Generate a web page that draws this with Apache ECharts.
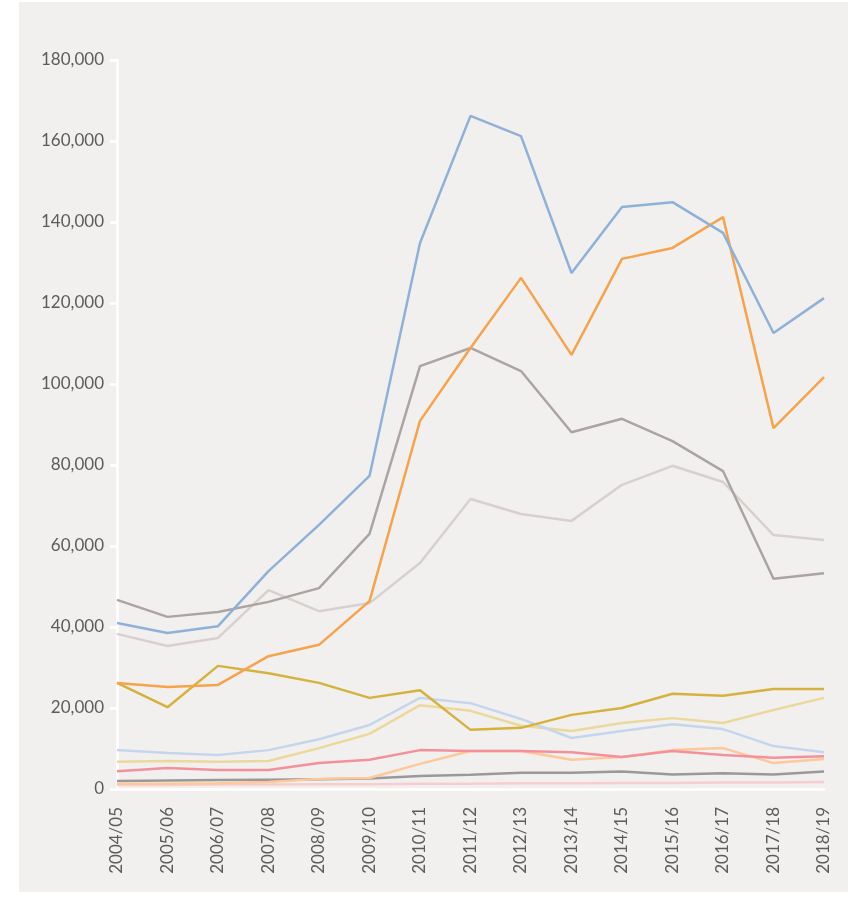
<!DOCTYPE html>
<html>
<head>
<meta charset="utf-8">
<script src="https://cdn.jsdelivr.net/npm/echarts@6/dist/echarts.min.js"></script>
<style>
html,body{margin:0;padding:0;background:#ffffff;}
#chart{width:855px;height:899px;}
</style>
</head>
<body>
<div id="chart"></div>
<script>
const categories = ['2004/05','2005/06','2006/07','2007/08','2008/09','2009/10','2010/11','2011/12','2012/13','2013/14','2014/15','2015/16','2016/17','2017/18','2018/19'];

const seriesBlue      = [41000,38500,40200,53800,65200,77300,134800,166200,161200,127400,143700,144900,137300,112600,121200];
const seriesOrange    = [26200,25200,25700,32800,35600,46400,90900,108900,126200,107200,130900,133600,141200,89100,101700];
const seriesTaupe     = [46700,42500,43700,46200,49600,63000,104400,108900,103200,88100,91400,85900,78500,51900,53300];
const seriesLightTaupe= [38300,35300,37300,49100,43900,45900,55800,71600,67900,66200,75100,79800,75800,62700,61500];
const seriesGold      = [26200,20200,30400,28600,26200,22500,24400,14600,15100,18300,20000,23500,23000,24700,24700];
const seriesLightBlue = [9600,8900,8400,9600,12300,15800,22500,21200,17300,12600,14300,16000,14800,10600,9100];
const seriesPaleGold  = [6700,6900,6700,6900,10100,13600,20700,19300,15600,14300,16300,17500,16300,19500,22500];
const seriesPinkRed   = [4400,5200,4700,4700,6400,7200,9600,9400,9400,9100,7900,9400,8400,7700,8100];
const seriesPeach     = [1300,1300,1400,1700,2500,2700,6200,9400,9400,7200,7900,9600,10100,6400,7400];
const seriesGray      = [2000,2100,2200,2300,2400,2600,3200,3500,4000,4000,4300,3600,3900,3600,4300];
const seriesLightPink = [1000,1000,1100,1100,1200,1200,1300,1300,1400,1400,1500,1500,1600,1600,1700];

const yTicks = { min: 0, max: 180000, interval: 20000 };

const lines = [
  { data: seriesLightPink, color: '#f8cdd0' },
  { data: seriesGray, color: '#9a9898' },
  { data: seriesPeach, color: '#fdc89a' },
  { data: seriesPinkRed, color: '#f2919c' },
  { data: seriesPaleGold, color: '#ead89d' },
  { data: seriesLightBlue, color: '#c5d6ec' },
  { data: seriesGold, color: '#d5b23e' },
  { data: seriesLightTaupe, color: '#d8d0cf' },
  { data: seriesTaupe, color: '#aca4a2' },
  { data: seriesOrange, color: '#f6a34b' },
  { data: seriesBlue, color: '#8fb1d7' }
];

const chart = echarts.init(document.getElementById('chart'), null, { renderer: 'canvas' });
const font = 'Lato, "Open Sans", sans-serif';

chart.setOption({
  backgroundColor: '#ffffff',
  animation: false,
  graphic: [{
    type: 'rect',
    z: -10,
    silent: true,
    shape: { x: 19, y: 2, width: 829, height: 890 },
    style: { fill: '#f2f0ef' }
  }],
  grid: { left: 117, right: 31, top: 60, bottom: 110, containLabel: false },
  xAxis: {
    type: 'category',
    data: categories,
    boundaryGap: false,
    axisLine: { show: true, lineStyle: { color: '#ffffff', width: 2.5 } },
    axisTick: { show: false },
    axisLabel: {
      rotate: 90,
      margin: 18,
      color: '#5c5c5c',
      fontFamily: font,
      fontSize: 17,
      interval: 0
    },
    splitLine: { show: false }
  },
  yAxis: {
    type: 'value',
    min: yTicks.min,
    max: yTicks.max,
    interval: yTicks.interval,
    axisLine: { show: true, lineStyle: { color: '#ffffff', width: 2.5 } },
    axisTick: { show: true, length: 7, lineStyle: { color: '#ffffff', width: 2.5 } },
    splitLine: { show: false },
    axisLabel: {
      margin: 13,
      color: '#5c5c5c',
      fontFamily: font,
      fontSize: 17,
      formatter: v => v.toLocaleString('en-US')
    }
  },
  series: lines.map(l => ({
    type: 'line',
    data: l.data,
    symbol: 'none',
    lineStyle: { color: l.color, width: 2.5 },
    itemStyle: { color: l.color }
  }))
});
</script>
</body>
</html>
